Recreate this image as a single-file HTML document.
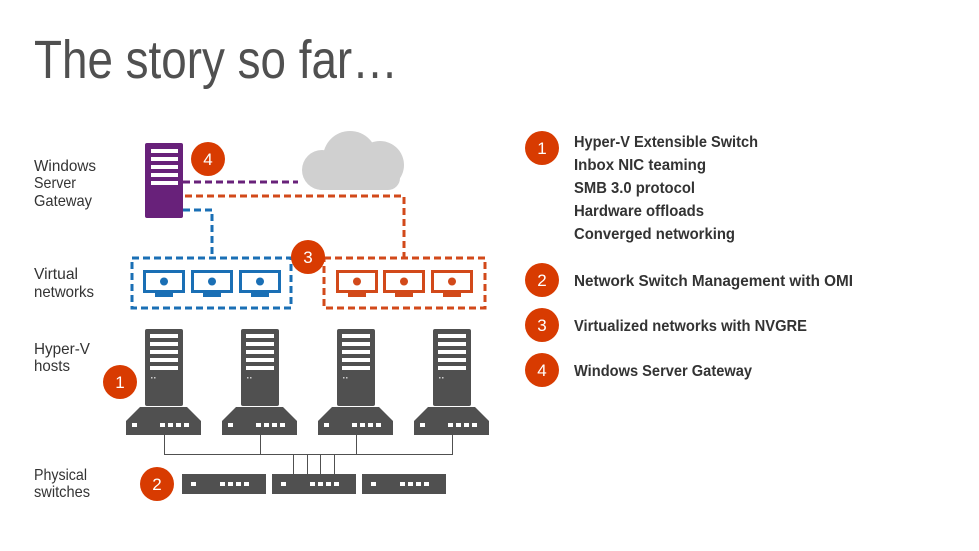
<!DOCTYPE html>
<html><head><meta charset="utf-8"><style>
html,body{margin:0;padding:0;background:#fff;}
svg{display:block;}
text{font-family:"Liberation Sans",sans-serif;}
</style></head><body>
<svg width="979" height="551" viewBox="0 0 979 551" xmlns="http://www.w3.org/2000/svg">
<defs>
<g id="tower">
<rect x="0" y="0" width="38" height="77" rx="2" fill="#505050"/>
<rect x="5" y="5" width="28" height="4" fill="#fff"/>
<rect x="5" y="13" width="28" height="4" fill="#fff"/>
<rect x="5" y="21" width="28" height="4" fill="#fff"/>
<rect x="5" y="29" width="28" height="4" fill="#fff"/>
<rect x="5" y="37" width="28" height="4" fill="#fff"/>
<rect x="6" y="48" width="1.5" height="1.5" fill="#ccc"/>
<rect x="9" y="48" width="1.5" height="1.5" fill="#ccc"/>
</g>
<g id="base">
<polygon points="14,0 61,0 75,14 75,28 0,28 0,14" fill="#505050"/>
<rect x="6" y="16" width="5" height="4" fill="#fff"/>
<rect x="34" y="16" width="5" height="4" fill="#fff"/>
<rect x="42" y="16" width="5" height="4" fill="#fff"/>
<rect x="50" y="16" width="5" height="4" fill="#fff"/>
<rect x="58" y="16" width="5" height="4" fill="#fff"/>
</g>
<g id="sw">
<rect x="0" y="0" width="84" height="20" fill="#505050"/>
<rect x="9" y="8" width="5" height="4" fill="#fff"/>
<rect x="38" y="8" width="5" height="4" fill="#fff"/>
<rect x="46" y="8" width="5" height="4" fill="#fff"/>
<rect x="54" y="8" width="5" height="4" fill="#fff"/>
<rect x="62" y="8" width="5" height="4" fill="#fff"/>
</g>
<g id="monB">
<rect x="1.5" y="1.5" width="39" height="20" fill="none" stroke="#1a6fb5" stroke-width="3"/>
<circle cx="21" cy="11.5" r="4" fill="#1a6fb5"/>
<rect x="12" y="23" width="18" height="4" fill="#1a6fb5"/>
</g>
<g id="monO">
<rect x="1.5" y="1.5" width="39" height="20" fill="none" stroke="#d2491a" stroke-width="3"/>
<circle cx="21" cy="11.5" r="4" fill="#d2491a"/>
<rect x="12" y="23" width="18" height="4" fill="#d2491a"/>
</g>
</defs>

<text x="34" y="78" font-size="54" fill="#505050" font-weight="normal" textLength="364" lengthAdjust="spacingAndGlyphs">The story so far…</text>

<!-- left labels -->
<g font-size="16" fill="#333">
<text x="34" y="171" textLength="62" lengthAdjust="spacingAndGlyphs">Windows</text>
<text x="34" y="188" textLength="42" lengthAdjust="spacingAndGlyphs">Server</text>
<text x="34" y="206" textLength="58" lengthAdjust="spacingAndGlyphs">Gateway</text>
<text x="34" y="279" textLength="44" lengthAdjust="spacingAndGlyphs">Virtual</text>
<text x="34" y="297" textLength="60" lengthAdjust="spacingAndGlyphs">networks</text>
<text x="34" y="354" textLength="56" lengthAdjust="spacingAndGlyphs">Hyper-V</text>
<text x="34" y="371" textLength="36" lengthAdjust="spacingAndGlyphs">hosts</text>
<text x="34" y="480" textLength="53" lengthAdjust="spacingAndGlyphs">Physical</text>
<text x="34" y="497" textLength="56" lengthAdjust="spacingAndGlyphs">switches</text>
</g>

<!-- cloud -->
<g fill="#d0d0d0">
<circle cx="350" cy="158" r="27"/>
<circle cx="380" cy="165" r="24"/>
<circle cx="322" cy="170" r="20"/>
<rect x="310" y="165" width="90" height="25" rx="12"/>
</g>

<!-- dashed connectors -->
<g fill="none" stroke-width="3" stroke-dasharray="7,4">
<path d="M183 182 H298" stroke="#68217a"/>
<path d="M185 196 H404 V257" stroke="#d2491a"/>
<path d="M183 210 H212 V257" stroke="#1a6fb5"/>
<rect x="132" y="258" width="159" height="50" stroke="#1a6fb5"/>
<rect x="324" y="258" width="161" height="50" stroke="#d2491a"/>
</g>

<!-- gateway -->
<rect x="145" y="143" width="38" height="75" rx="2" fill="#68217a"/>
<g fill="#fff">
<rect x="151" y="149" width="27" height="4"/><rect x="151" y="157" width="27" height="4"/>
<rect x="151" y="165" width="27" height="4"/><rect x="151" y="173" width="27" height="4"/>
<rect x="151" y="181" width="27" height="4"/>
</g>

<use href="#monB" x="143" y="270"/><use href="#monB" x="191" y="270"/><use href="#monB" x="239" y="270"/>
<use href="#monO" x="336" y="270"/><use href="#monO" x="383" y="270"/><use href="#monO" x="431" y="270"/>

<!-- hosts -->
<use href="#tower" x="145" y="329"/><use href="#tower" x="241" y="329"/>
<use href="#tower" x="337" y="329"/><use href="#tower" x="433" y="329"/>
<use href="#base" x="126" y="407"/><use href="#base" x="222" y="407"/>
<use href="#base" x="318" y="407"/><use href="#base" x="414" y="407"/>

<g stroke="#505050" stroke-width="1" fill="none">
<path d="M164.5 435 V454.5 H452.5 V435 M260.5 435 V454.5 M356.5 435 V454.5"/>
<path d="M293.5 454.5 V474 M307.5 454.5 V474 M320.5 454.5 V474 M334.5 454.5 V474"/>
</g>
<use href="#sw" x="182" y="474"/><use href="#sw" x="272" y="474"/><use href="#sw" x="362" y="474"/>

<!-- badges -->
<g fill="#d83b01">
<circle cx="208" cy="159" r="17"/><circle cx="308" cy="257" r="17"/>
<circle cx="120" cy="382" r="17"/><circle cx="157" cy="484" r="17"/>
<circle cx="542" cy="148" r="17"/><circle cx="542" cy="280" r="17"/>
<circle cx="542" cy="325" r="17"/><circle cx="542" cy="370" r="17"/>
</g>
<g fill="#fff" font-size="17" text-anchor="middle">
<text x="208" y="165">4</text><text x="308" y="263">3</text>
<text x="120" y="388">1</text><text x="157" y="490">2</text>
<text x="542" y="154">1</text><text x="542" y="286">2</text>
<text x="542" y="331">3</text><text x="542" y="376">4</text>
</g>

<!-- right text -->
<g font-size="16" font-weight="bold" fill="#333" lengthAdjust="spacingAndGlyphs">
<text x="574" y="147" textLength="184" lengthAdjust="spacingAndGlyphs">Hyper-V Extensible Switch</text>
<text x="574" y="170" textLength="132" lengthAdjust="spacingAndGlyphs">Inbox NIC teaming</text>
<text x="574" y="193" textLength="121" lengthAdjust="spacingAndGlyphs">SMB 3.0 protocol</text>
<text x="574" y="216" textLength="130" lengthAdjust="spacingAndGlyphs">Hardware offloads</text>
<text x="574" y="239" textLength="161" lengthAdjust="spacingAndGlyphs">Converged networking</text>
<text x="574" y="286" textLength="279" lengthAdjust="spacingAndGlyphs">Network Switch Management with OMI</text>
<text x="574" y="331" textLength="233" lengthAdjust="spacingAndGlyphs">Virtualized networks with NVGRE</text>
<text x="574" y="376" textLength="178" lengthAdjust="spacingAndGlyphs">Windows Server Gateway</text>
</g>
</svg>
</body></html>
